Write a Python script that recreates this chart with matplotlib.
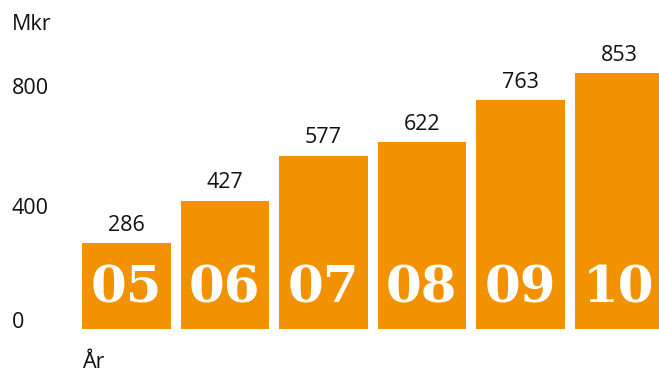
import matplotlib
matplotlib.use("Agg")
from matplotlib import pyplot as plt

years = ["05", "06", "07", "08", "09", "10"]
values = [286, 427, 577, 622, 763, 853]
yticks = [0, 400, 800]

ORANGE = "#F39200"
TEXT = "#111111"

plt.rcParams["font.family"] = ["Open Sans", "DejaVu Sans"]

fig = plt.figure(figsize=(6.59, 3.74), dpi=100)
# axes: bar area only, ticks drawn as text
ax = fig.add_axes([82 / 659, 45 / 374, 577 / 659, 270 / 374])
ax.set_xlim(-0.45, -0.45 + 577 / 98.5)
ax.set_ylim(0, 900)
ax.axis("off")

x = list(range(len(years)))
ax.bar(x, values, width=0.9, color=ORANGE, clip_on=True)

for xi, v, yr in zip(x, values, years):
    ax.annotate(str(v), (xi, v), xytext=(0, 13), textcoords="offset points",
                ha="center", va="center", fontsize=15.5, color=TEXT)
    ax.annotate(yr, (xi, 0), xytext=(0, 29), textcoords="offset points",
                ha="center", va="center", fontsize=37, color="white",
                fontweight="bold", family="DejaVu Serif")

# y tick labels
for t in yticks:
    y_px = 329 - t * 0.3
    if t == 0:
        y_px -= 6
    fig.text(12 / 659, 1 - y_px / 374, str(t), ha="left", va="center",
             fontsize=15.5, color=TEXT)

fig.text(12 / 659, 1 - 24 / 374, "Mkr", ha="left", va="center", fontsize=15.5, color=TEXT)
fig.text(82 / 659, 1 - 362 / 374, "År", ha="left", va="center", fontsize=15.5, color=TEXT)

fig.savefig("out.png", dpi=100)
